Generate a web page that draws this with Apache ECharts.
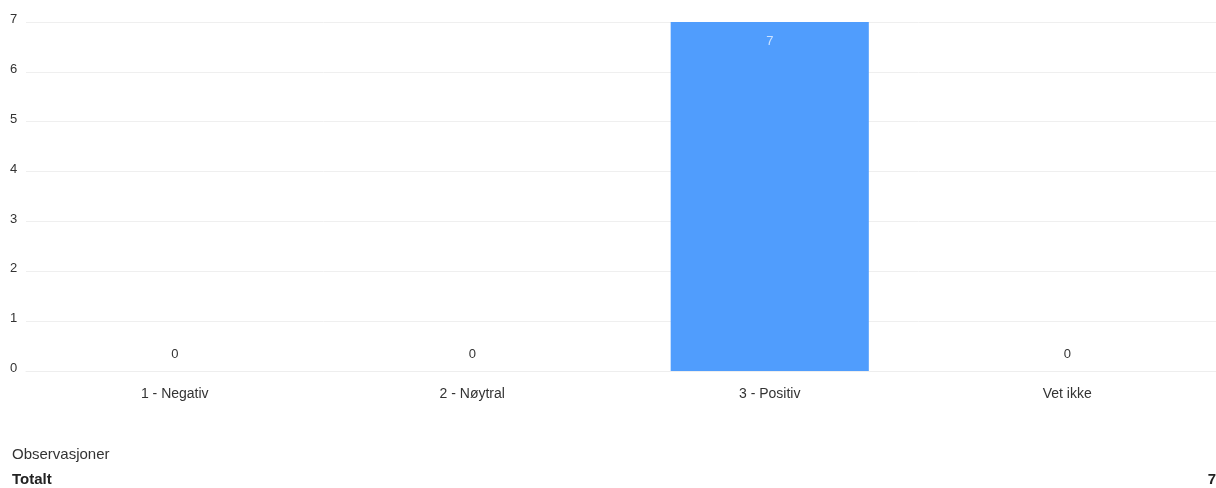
<!DOCTYPE html>
<html><head><meta charset="utf-8">
<script src="https://cdn.jsdelivr.net/npm/echarts@6/dist/echarts.min.js"></script>
<style>html,body{margin:0;padding:0;background:#fff}#c{width:1216px;height:488px}</style>
</head><body><div id="c"></div>
<script>
const categories = ['1 - Negativ', '2 - Nøytral', '3 - Positiv', 'Vet ikke'];
const values = [0, 0, 7, 0];
const yTicks = [0, 1, 2, 3, 4, 5, 6, 7];
const footerLabel = 'Observasjoner';
const totalLabel = 'Totalt';
const total = values.reduce((a, b) => a + b, 0);

const font = '"Liberation Sans", Arial, sans-serif';
const chart = echarts.init(document.getElementById('c'));
chart.setOption({
  animation: false,
  textStyle: { fontFamily: font },
  grid: { left: 26, right: 0, top: 22, bottom: 117, containLabel: false },
  xAxis: {
    type: 'category', data: categories,
    axisLine: { show: true, lineStyle: { color: '#eeeeee' } },
    axisTick: { show: false },
    axisLabel: { color: '#333', fontSize: 14, margin: 16, fontFamily: font }
  },
  yAxis: {
    type: 'value', min: 0, max: yTicks[yTicks.length - 1], interval: 1,
    axisLine: { show: false }, axisTick: { show: false },
    splitLine: { lineStyle: { color: '#efefef' } },
    axisLabel: { color: '#333', fontSize: 13, align: 'left', margin: 16, verticalAlign: 'bottom', padding: [0, 0, -4, 0], fontFamily: font }
  },
  series: [{
    type: 'bar', data: values.map(v => v > 0
      ? { value: v, label: { position: 'insideTop', distance: 13, color: 'rgba(255,255,255,0.7)' } }
      : v),
    barWidth: '66.6%',
    itemStyle: { color: '#509dfd' },
    label: {
      show: true, fontSize: 13, fontFamily: font,
      position: 'top', distance: 10, color: '#333'
    }
  }],
  graphic: [
    { type: 'text', left: 12, top: 447, style: { text: footerLabel, fill: '#333', font: '15px ' + font } },
    { type: 'text', left: 12, top: 472, style: { text: totalLabel, fill: '#222', font: 'bold 15px ' + font } },
    { type: 'text', right: 0, top: 472, style: { text: String(total), fill: '#222', font: 'bold 15px ' + font } }
  ]
});
</script></body></html>
